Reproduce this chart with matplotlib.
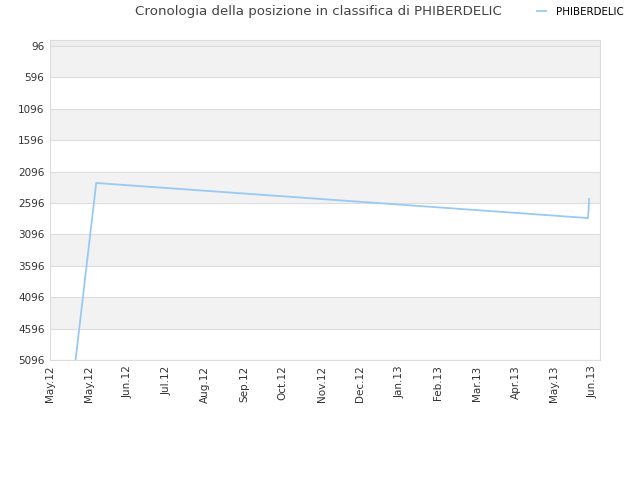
import matplotlib
matplotlib.use("Agg")
import matplotlib.pyplot as plt
import numpy as np

# data
days = [18.6, 33.6, 391.0, 391.2, 392.0]
ranks = [5096, 2277, 2835, 2835, 2532]
tick_labels = ["May.12", "May.12", "Jun.12", "Jul.12", "Aug.12", "Sep.12", "Oct.12",
               "Nov.12", "Dec.12", "Jan.13", "Feb.13", "Mar.13", "Apr.13", "May.13", "Jun.13"]
tick_step = 28.2
y_ticks = [96, 596, 1096, 1596, 2096, 2596, 3096, 3596, 4096, 4596, 5096]
series_name = "PHIBERDELIC"
title = "Cronologia della posizione in classifica di PHIBERDELIC"

fig = plt.figure(figsize=(6.4, 4.8), dpi=100)
ax = fig.add_axes([50/640, 1-360/480, 550/640, 320/480])

xmax = 14.18 * tick_step
ax.set_xlim(0, xmax)
ax.set_ylim(5096, 0)

# alternating bands
ax.axhspan(0, 96, color="#eeeeee", lw=0, zorder=0)
for i in range(0, len(y_ticks) - 1, 2):
    ax.axhspan(y_ticks[i], y_ticks[i + 1], color="#f2f2f2", lw=0, zorder=0)
for y in y_ticks:
    ax.axhline(y, color="#dddddd", lw=0.8, zorder=1)

ax.plot(days, ranks, color="#99c9f5", lw=1.3, zorder=3, label=series_name, clip_on=True)

ax.set_yticks(y_ticks)
ax.set_yticklabels([str(v) for v in y_ticks], fontsize=7.5, color="#333333")
xt = np.arange(len(tick_labels)) * tick_step
ax.set_xticks(xt)
ax.set_xticklabels(tick_labels, rotation=90, fontsize=7.5, color="#333333")
ax.tick_params(axis="both", length=0, pad=4)
for s in ax.spines.values():
    s.set_color("#dddddd")
    s.set_linewidth(0.8)

fig.text(318/640, 1-12/480, title, ha="center", va="center", fontsize=9.6, color="#444444")
leg = fig.legend(loc="center left", bbox_to_anchor=(532/640, 1-12/480), frameon=False,
                 fontsize=7.4, handlelength=0.9, handletextpad=0.9, borderpad=0)

fig.savefig("out.png", dpi=100, facecolor="white")
